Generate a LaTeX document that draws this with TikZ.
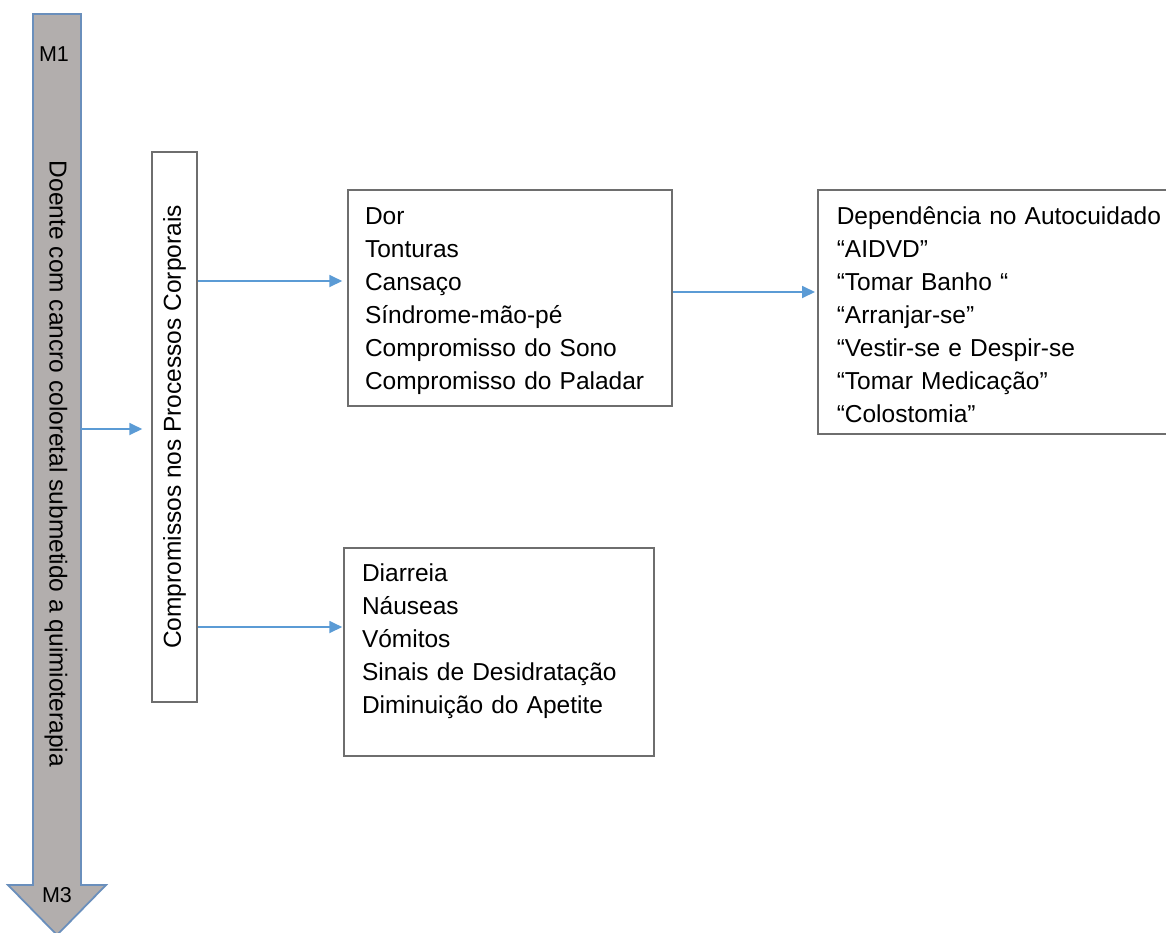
\documentclass[tikz,border=0pt]{standalone}
\usepackage{fontspec}
\setmainfont{Liberation Sans}
\usetikzlibrary{arrows.meta, positioning, calc}
\definecolor{shaftgray}{HTML}{B2AEAD}
\definecolor{shaftblue}{HTML}{6A8FBC}
\definecolor{boxgray}{HTML}{6E6E6E}
\definecolor{flowblue}{HTML}{5B9BD5}

\begin{document}
\begin{tikzpicture}[
  x=1pt, y=-1pt,
  every node/.style={font=\fontsize{24.5}{33}\selectfont},
  listbox/.style={rectangle, draw=boxgray, line width=1.5pt, align=left, inner xsep=17pt, inner ysep=0pt},
  flow/.style={-{Triangle[length=13pt, width=12pt]}, flowblue, line width=1.8pt},
  marklabel/.style={font=\fontsize{21.5}{24}\selectfont},
]
\useasboundingbox (0,0) rectangle (1166,932);

% Time axis: big down arrow
\draw[fill=shaftgray, draw=shaftblue, line width=1.8pt]
  (33,14) -- (81,14) -- (81,885) -- (106,885) -- (57,935) -- (8,885) -- (33,885) -- cycle;
\node[marklabel] (m1) at (54,54) {M1};
\node[marklabel] (m3) at (57,895) {M3};
\node[rotate=-90] (patient) at (56,464) {Doente com cancro coloretal submetido a quimioterapia};
\coordinate (shaft) at (81,429);

% Body processes
\node[rectangle, draw=boxgray, line width=1.5pt, rotate=90, minimum width=550pt, minimum height=45pt, inner sep=0pt] (body) at (174.5,427) {Compromissos nos Processos Corporais};

% Symptom lists
\node[listbox, text width=290pt, minimum height=216pt] (sym) at (510,298)
  {Dor\rule{0pt}{24pt}\\Tonturas\\Cansaço\\Síndrome-mão-pé\\Compromisso do Sono\\Compromisso do Paladar};
\node[listbox, inner xsep=19pt, text width=340pt, minimum height=244pt, anchor=west] (care) at (817,312)
  {Dependência no Autocuidado\rule{0pt}{24pt}\\“AIDVD”\\“Tomar Banho “\\“Arranjar-se”\\“Vestir-se e Despir-se\\“Tomar Medicação”\\“Colostomia”};
\node[listbox, inner xsep=18pt, text width=274pt, minimum height=208pt] (gut) at (499,652)
  {Diarreia\\Náuseas\\Vómitos\\Sinais de Desidratação\\Diminuição do Apetite\rule[-26pt]{0pt}{0pt}};

% Connectors
\draw[flow, shorten >=9pt] (shaft) -- (body.north |- shaft);
\draw[flow, shorten >=5pt] ($(body.south |- sym.west)+(0,-17)$) -- ($(sym.west)+(0,-17)$);
\draw[flow, shorten >=2pt] ($(sym.east |- care.west)+(0,-20)$) -- ($(care.west)+(0,-20)$);
\draw[flow, shorten >=1pt] ($(body.south |- gut.west)+(0,-25)$) -- ($(gut.west)+(0,-25)$);

\end{tikzpicture}
\end{document}
